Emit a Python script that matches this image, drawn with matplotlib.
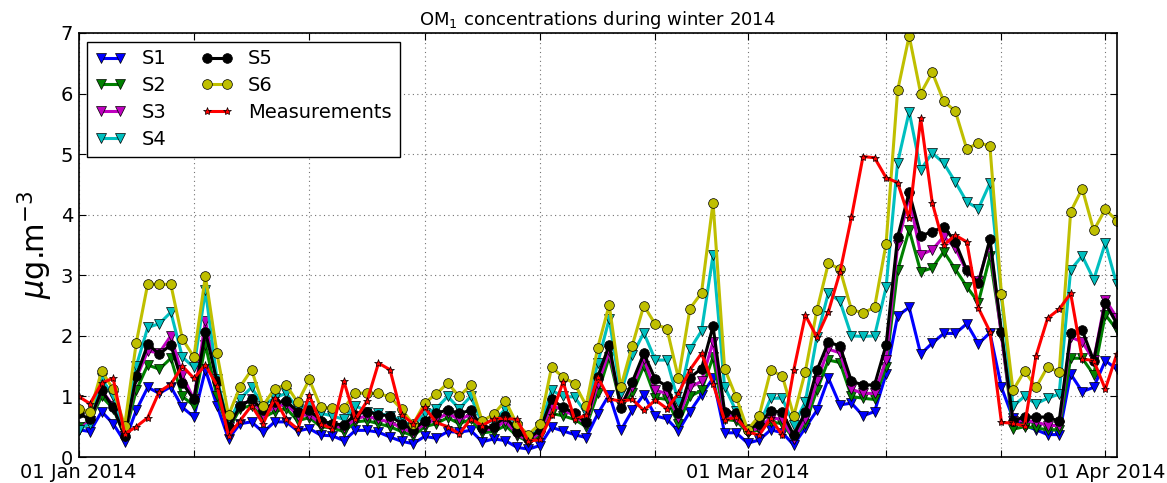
import numpy as np
import matplotlib
matplotlib.use('Agg')
import matplotlib.pyplot as plt

s1 = [0.45, 0.42, 0.75, 0.55, 0.25, 0.77, 1.15, 1.05, 1.16, 0.82, 0.66, 1.44, 0.85, 0.3, 0.55, 0.58,
      0.41, 0.58, 0.58, 0.43, 0.47, 0.36, 0.35, 0.27, 0.44, 0.44, 0.41, 0.33, 0.26, 0.22, 0.34, 0.31,
      0.42, 0.41, 0.44, 0.25, 0.3, 0.27, 0.16, 0.13, 0.19, 0.49, 0.43, 0.37, 0.32, 0.71, 1.03, 0.44,
      0.77, 1.03, 0.68, 0.63, 0.43, 0.75, 1.03, 1.3, 0.4, 0.4, 0.23, 0.28, 0.45, 0.4, 0.2, 0.48,
      0.77, 1.3, 0.86, 0.89, 0.68, 0.75, 1.37, 2.33, 2.47, 1.7, 1.88, 2.04, 2.04, 2.2, 1.87, 2.05,
      1.15, 0.64, 0.52, 0.45, 0.37, 0.37, 1.37, 1.08, 1.15, 1.59, 1.45]
s2 = [0.5, 0.6, 1.0, 0.8, 0.35, 1.1, 1.52, 1.45, 1.63, 1.0, 0.85, 1.85, 1.0, 0.45, 0.8, 0.85,
      0.65, 0.75, 0.8, 0.6, 0.65, 0.5, 0.48, 0.42, 0.58, 0.6, 0.55, 0.5, 0.42, 0.35, 0.5, 0.55,
      0.65, 0.55, 0.62, 0.4, 0.42, 0.52, 0.35, 0.25, 0.35, 0.72, 0.68, 0.62, 0.5, 1.05, 1.65, 0.85,
      1.05, 1.5, 0.98, 0.95, 0.55, 1.0, 1.1, 1.65, 0.62, 0.6, 0.4, 0.45, 0.58, 0.55, 0.3, 0.55,
      1.1, 1.6, 1.56, 1.0, 0.97, 0.95, 1.49, 3.08, 3.75, 3.06, 3.12, 3.39, 3.1, 2.81, 2.55, 3.31,
      2.05, 0.46, 0.5, 0.48, 0.45, 0.45, 1.63, 1.63, 1.36, 2.35, 2.1]
s3 = [0.45, 0.6, 1.1, 0.85, 0.35, 1.3, 1.75, 1.72, 2.0, 1.35, 0.95, 2.25, 1.2, 0.5, 0.85, 0.95,
      0.7, 0.82, 0.88, 0.68, 0.7, 0.55, 0.52, 0.48, 0.63, 0.68, 0.62, 0.58, 0.48, 0.4, 0.55, 0.62,
      0.72, 0.62, 0.7, 0.45, 0.46, 0.6, 0.38, 0.27, 0.4, 0.85, 0.78, 0.68, 0.55, 1.2, 1.75, 0.88,
      1.15, 1.62, 1.1, 1.05, 0.65, 1.15, 1.25, 1.9, 0.7, 0.65, 0.42, 0.48, 0.65, 0.62, 0.3, 0.62,
      1.25, 1.78, 1.72, 1.12, 1.05, 1.05, 1.6, 3.5, 4.3, 3.34, 3.42, 3.64, 3.45, 3.06, 2.9, 3.55,
      2.0, 0.6, 0.6, 0.58, 0.52, 0.52, 1.98, 1.9, 1.6, 2.6, 2.3]
s4 = [0.45, 0.55, 1.3, 1.0, 0.4, 1.5, 2.14, 2.2, 2.39, 1.65, 1.48, 2.75, 1.29, 0.55, 0.96, 1.15,
      0.85, 0.98, 1.05, 0.8, 0.85, 0.72, 0.68, 0.62, 0.85, 0.75, 0.72, 0.68, 0.6, 0.5, 0.72, 0.8,
      1.0, 0.8, 1.0, 0.55, 0.6, 0.79, 0.5, 0.35, 0.5, 1.1, 1.0, 0.99, 0.72, 1.55, 2.28, 1.05,
      1.68, 2.05, 1.6, 1.6, 0.91, 1.78, 2.08, 3.33, 1.16, 0.76, 0.47, 0.53, 0.97, 0.97, 0.53, 0.91,
      1.98, 2.71, 2.57, 2.0, 1.99, 2.0, 2.8, 4.86, 5.7, 4.74, 5.02, 4.85, 4.54, 4.21, 4.1, 4.52,
      2.65, 0.84, 1.0, 0.88, 0.97, 1.04, 3.09, 3.32, 2.93, 3.53, 2.85]
s5 = [0.72, 0.62, 1.1, 0.82, 0.35, 1.33, 1.86, 1.7, 1.85, 1.22, 0.95, 2.07, 1.25, 0.5, 0.84, 0.95,
      0.78, 0.9, 0.92, 0.75, 0.78, 0.6, 0.55, 0.53, 0.7, 0.75, 0.7, 0.68, 0.55, 0.45, 0.6, 0.72,
      0.78, 0.72, 0.77, 0.48, 0.5, 0.68, 0.42, 0.3, 0.45, 0.95, 0.82, 0.72, 0.57, 1.32, 1.85, 0.81,
      1.24, 1.71, 1.28, 1.17, 0.72, 1.31, 1.46, 2.16, 0.75, 0.72, 0.45, 0.55, 0.76, 0.74, 0.36, 0.74,
      1.43, 1.9, 1.83, 1.25, 1.19, 1.19, 1.85, 3.63, 4.37, 3.65, 3.72, 3.8, 3.55, 3.08, 2.87, 3.6,
      2.07, 0.6, 0.66, 0.66, 0.66, 0.59, 2.04, 2.09, 1.59, 2.54, 2.2]
s6 = [0.8, 0.74, 1.42, 1.12, 0.52, 1.88, 2.86, 2.85, 2.85, 1.95, 1.65, 2.99, 1.71, 0.69, 1.16, 1.44,
      0.85, 1.13, 1.19, 0.9, 1.28, 0.82, 0.81, 0.81, 1.06, 1.05, 1.05, 0.99, 0.79, 0.54, 0.89, 1.04,
      1.22, 1.0, 1.19, 0.59, 0.71, 0.93, 0.54, 0.37, 0.55, 1.48, 1.32, 1.21, 0.85, 1.8, 2.51, 1.15,
      1.84, 2.5, 2.19, 2.12, 1.3, 2.45, 2.71, 4.2, 1.46, 0.99, 0.45, 0.68, 1.43, 1.34, 0.68, 1.41,
      2.42, 3.2, 3.1, 2.43, 2.38, 2.47, 3.52, 6.05, 6.95, 6.0, 6.35, 5.87, 5.71, 5.08, 5.19, 5.13,
      2.69, 1.1, 1.42, 1.15, 1.49, 1.4, 4.05, 4.43, 3.74, 4.09, 3.9]
meas = [1.0, 0.88, 1.22, 1.3, 0.38, 0.5, 0.65, 1.08, 1.2, 1.5, 1.3, 1.52, 1.18, 0.35, 0.6, 0.85,
        0.55, 0.97, 0.62, 0.46, 1.02, 0.55, 0.46, 1.25, 0.62, 0.92, 1.55, 1.44, 0.7, 0.55, 0.82, 0.57,
        0.5, 0.38, 0.63, 0.52, 0.63, 0.64, 0.62, 0.26, 0.29, 0.69, 1.24, 0.62, 0.69, 1.32, 0.96, 0.92,
        0.95, 0.77, 0.94, 0.8, 1.05, 1.44, 1.71, 1.21, 0.61, 0.66, 0.42, 0.36, 0.64, 0.36, 1.44, 2.34,
        1.98, 2.4, 3.05, 3.96, 4.96, 4.94, 4.61, 4.53, 3.94, 5.59, 4.2, 3.5, 3.66, 3.55, 2.46, 2.07,
        0.57, 0.56, 0.51, 1.67, 2.29, 2.44, 2.7, 1.62, 1.59, 1.12, 1.7]

tick_pos = [0, 10, 20, 30, 40, 50, 58, 70, 80, 89]
tick_lab = ['01 Jan 2014', '', '', '01 Feb 2014', '', '', '01 Mar 2014', '', '', '01 Apr 2014']

x = np.arange(len(s1))

fig = plt.figure(figsize=(11.67, 4.83), dpi=100)
ax = fig.add_axes([0.0673, 0.0538, 0.8897, 0.878])

kw = dict(lw=2.2, mec='k', mew=0.5)
ax.plot(x, s1, 'b-v', ms=7, label='S1', **kw)
ax.plot(x, s2, '-v', ms=7, label='S2', color=(0, 0.5, 0), **kw)
ax.plot(x, s3, '-v', ms=7, label='S3', color=(0.75, 0, 0.75), **kw)
ax.plot(x, s4, '-v', ms=7, label='S4', color=(0, 0.75, 0.75), **kw)
ax.plot(x, s5, 'k-o', ms=7, label='S5', **kw)
ax.plot(x, s6, '-o', ms=7, label='S6', color=(0.75, 0.75, 0), **kw)
ax.plot(x, meas, 'r-*', ms=6, label='Measurements', **kw)

ax.set_xlim(0, 90)
ax.set_ylim(0, 7)
ax.set_xticks(tick_pos)
ax.set_xticklabels(tick_lab)
ax.set_yticks(range(8))
ax.tick_params(direction='in', top=True, right=True, labelsize=14, length=5, pad=4)
ax.grid(True, color='0.45', linestyle=(0, (1, 3)), linewidth=0.8)
for sp in ax.spines.values():
    sp.set_linewidth(1.2)

ax.set_ylabel(r'$\mu$g.m$^{-3}$', fontsize=22)
ax.set_title(r'OM$_1$ concentrations during winter 2014', fontsize=13)

leg = ax.legend(loc='upper left', ncol=2, numpoints=2, fontsize=14, fancybox=False,
                edgecolor='k', framealpha=1, handlelength=1.6, columnspacing=1.8,
                borderaxespad=0.45, labelspacing=0.4)
leg.get_frame().set_linewidth(1.0)

fig.savefig('out.png', dpi=100)
